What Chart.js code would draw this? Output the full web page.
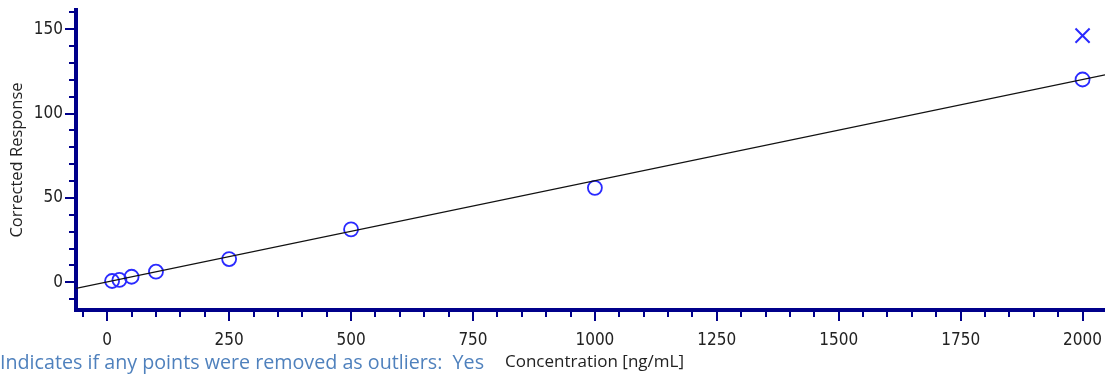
<!DOCTYPE html>
<html lang="en">
<head>
  <meta charset="UTF-8" />
  <title>Calibration curve</title>
  <script src="https://cdn.jsdelivr.net/npm/chart.js"></script>
  <style>
    html, body { margin: 0; padding: 0; background: #fff; }
    #wrap { position: relative; width: 1105px; height: 374px; }
    #note { position: absolute; left: 0; top: 352px; font: 19.7px "Open Sans", sans-serif; color: #4f81bd; white-space: pre; line-height: 1; }
    #xtitle { position: absolute; left: 505px; top: 352px; font: 17px "Open Sans", sans-serif; color: #222; white-space: pre; line-height: 1; }
  </style>
</head>
<body>
  <div id="wrap">
    <canvas id="calib" width="1105" height="374"></canvas>
    <span id="note">Indicates if any points were removed as outliers:  Yes</span>
    <span id="xtitle">Concentration [ng/mL]</span>
  </div>

  <script>
    // calibration standards (ng/mL) and corrected response
    const concentrations = [10, 25, 50, 100, 250, 500, 1000, 2000];
    const responses = [0.8, 1.4, 3.3, 6.3, 13.8, 31.4, 56, 120.2];
    // point removed as outlier
    const outlierX = [2000];
    const outlierY = [146.2];
    // linear fit: y = slope * x + intercept
    const fitSlope = 0.06;
    const fitIntercept = 0.2;
    // axis ranges and ticks
    const xRange = [-64, 2046];
    const yRange = [-16.4, 161.4];
    const xMajorStep = 250, xMinorStep = 50;
    const yMajorStep = 50, yMinorStep = 10;

    const navy = '#00008b';
    const markBlue = '#2a2aff';
    const tickFont = { family: '"DejaVu Sans Condensed", "DejaVu Sans", sans-serif', size: 17 };

    const fitLine = xRange.map(x => ({ x: x, y: fitSlope * x + fitIntercept }));

    // short minor ticks, longer major ticks, pointing outwards
    const tickMarks = {
      id: 'tickMarks',
      afterDraw(chart) {
        const ctx = chart.ctx;
        const xs = chart.scales.x, ys = chart.scales.y;
        const area = chart.chartArea;
        ctx.save();
        ctx.strokeStyle = navy;
        ctx.lineWidth = 2;
        xs.ticks.forEach(t => {
          if (t.value < xs.min || t.value > xs.max) return;
          const px = Math.round(xs.getPixelForValue(t.value));
          const len = t.value % xMajorStep === 0 ? 9 : 5;
          ctx.beginPath();
          ctx.moveTo(px, area.bottom + 2);
          ctx.lineTo(px, area.bottom + 2 + len);
          ctx.stroke();
        });
        ys.ticks.forEach(t => {
          if (t.value < ys.min || t.value > ys.max) return;
          const py = Math.round(ys.getPixelForValue(t.value));
          const len = t.value % yMajorStep === 0 ? 9 : 5;
          ctx.beginPath();
          ctx.moveTo(area.left - 2, py);
          ctx.lineTo(area.left - 2 - len, py);
          ctx.stroke();
        });
        ctx.restore();
      }
    };

    new Chart(document.getElementById('calib'), {
      type: 'scatter',
      data: {
        datasets: [{
          label: 'Fit',
          type: 'line',
          data: fitLine,
          borderColor: '#111',
          borderWidth: 1.3,
          pointRadius: 0,
          fill: false
        }, {
          label: 'Standards',
          data: concentrations.map((x, i) => ({ x: x, y: responses[i] })),
          pointStyle: 'circle',
          pointRadius: 7,
          borderColor: markBlue,
          backgroundColor: 'rgba(0,0,0,0)',
          borderWidth: 1.8
        }, {
          label: 'Outlier',
          data: outlierX.map((x, i) => ({ x: x, y: outlierY[i] })),
          pointStyle: 'crossRot',
          pointRadius: 10,
          borderColor: markBlue,
          borderWidth: 2
        }]
      },
      options: {
        responsive: false,
        animation: false,
        layout: { autoPadding: false, padding: { top: 10, right: 0, left: 0, bottom: 0 } },
        plugins: { legend: { display: false }, tooltip: { enabled: false } },
        scales: {
          x: {
            type: 'linear',
            min: xRange[0],
            max: xRange[1],
            afterFit: s => { s.height = 64; s.paddingLeft = 0; s.paddingRight = 0; },
            grid: { display: false, drawTicks: false },
            border: { color: navy, width: 4 },
            ticks: {
              stepSize: xMinorStep,
              includeBounds: false,
              autoSkip: false,
              maxRotation: 0,
              padding: 20,
              color: '#222',
              font: tickFont,
              callback: v => (v % xMajorStep === 0 ? v : '')
            }
          },
          y: {
            min: yRange[0],
            max: yRange[1],
            afterFit: s => { s.width = 76; s.paddingTop = 0; s.paddingBottom = 0; },
            grid: { display: false, drawTicks: false },
            border: { color: navy, width: 4 },
            title: {
              display: true,
              text: 'Corrected Response',
              color: '#222',
              font: { family: '"Open Sans", sans-serif', size: 16.5 },
              padding: { top: 7, bottom: 0 }
            },
            ticks: {
              stepSize: yMinorStep,
              includeBounds: false,
              autoSkip: false,
              padding: 13,
              color: '#222',
              font: tickFont,
              callback: v => (v % yMajorStep === 0 ? v : '')
            }
          }
        }
      },
      plugins: [tickMarks]
    });
  </script>
</body>
</html>
